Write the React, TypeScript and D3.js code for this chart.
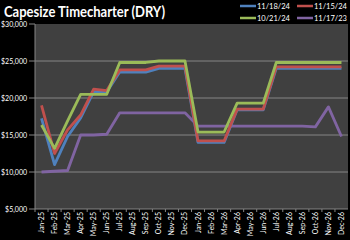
import React from "react";
import * as d3 from "d3";

const months = [
  "Jan-25","Feb-25","Mar-25","Apr-25","May-25","Jun-25","Jul-25","Aug-25","Sep-25","Oct-25","Nov-25","Dec-25",
  "Jan-26","Feb-26","Mar-26","Apr-26","May-26","Jun-26","Jul-26","Aug-26","Sep-26","Oct-26","Nov-26","Dec-26",
];
const blue111824 = [17250, 11000, 14800, 17300, 20850, 20800, 23500, 23500, 23500, 24000, 24000, 24000, 14000, 14000, 14000, 18400, 18400, 18400, 24000, 24000, 24000, 24000, 24000, 24000];
const red111524 = [19000, 12500, 15700, 17700, 21200, 21000, 23800, 23800, 23800, 24300, 24300, 24300, 14200, 14200, 14200, 18500, 18500, 18500, 24200, 24200, 24200, 24200, 24200, 24200];
const green102124 = [16350, 13200, 16900, 20500, 20500, 20500, 24800, 24800, 24800, 25000, 25000, 25000, 15400, 15400, 15400, 19300, 19300, 19300, 24800, 24800, 24800, 24800, 24800, 24800];
const purple111723 = [10000, 10100, 10200, 15000, 15000, 15100, 18000, 18000, 18000, 18000, 18000, 18000, 16200, 16200, 16200, 16200, 16200, 16200, 16200, 16200, 16200, 16100, 18800, 14800];
const yTicks = [5000, 10000, 15000, 20000, 25000, 30000];
const seriesNames = ["11/18/24", "11/15/24", "10/21/24", "11/17/23"];

const colors = ["#4F81BD", "#C0504D", "#9BBB59", "#8064A2"];

export default function App() {
  const W = 350, H = 240;
  const left = 35, right = 348, top = 24, bottom = 209;
  const x = d3.scaleBand<string>().domain(months).range([left, right]);
  const y = d3.scaleLinear().domain([5000, 30000]).range([bottom, top]);
  const line = d3.line<number>()
    .x((_, i) => (x(months[i]) as number) + x.bandwidth() / 2)
    .y((d) => y(d));
  const data = [blue111824, red111524, green102124, purple111723];
  const drawOrder = [3, 0, 1, 2];
  const font = "Lato, 'Open Sans', sans-serif";
  const legendPos = [
    { x: 240, y: 6 },
    { x: 297, y: 6 },
    { x: 240, y: 18 },
    { x: 297, y: 18 },
  ];
  return (
    <svg width={W} height={H} style={{ position: "absolute", left: 0, top: 0, background: "#000" }} fontFamily={font}>
      <rect x={0} y={0} width={W} height={H} fill="#000" />
      <text x={4} y={17} fill="#fff" fontSize={15} fontWeight="bold" textLength={161} lengthAdjust="spacingAndGlyphs">
        Capesize Timecharter (DRY)
      </text>
      {seriesNames.map((n, i) => (
        <g key={n}>
          <line x1={legendPos[i].x} x2={legendPos[i].x + 16} y1={legendPos[i].y} y2={legendPos[i].y} stroke={colors[i]} strokeWidth={2.5} />
          <text x={legendPos[i].x + 17} y={legendPos[i].y + 2.5} fill="#fff" fontSize={7.5}>{n}</text>
        </g>
      ))}
      <rect x={left} y={top} width={right - left} height={bottom - top} fill="#404040" />
      {yTicks.map((t) => (
        <g key={t}>
          {t !== 5000 && t !== 30000 && (
            <line x1={left} x2={right} y1={y(t)} y2={y(t)} stroke="#858585" strokeWidth={1} />
          )}
          <line x1={left - 6} x2={left} y1={y(t)} y2={y(t)} stroke="#858585" strokeWidth={1} />
          <text x={left - 8} y={y(t) + 2.5} fill="#fff" fontSize={7} textAnchor="end">
            {"$" + d3.format(",")(t)}
          </text>
        </g>
      ))}
      <line x1={left} x2={left} y1={top} y2={bottom} stroke="#858585" strokeWidth={1} />
      <line x1={left} x2={right} y1={bottom} y2={bottom} stroke="#858585" strokeWidth={1} />
      {months.map((m, i) => (
        <line key={"t" + m} x1={(x(m) as number)} x2={(x(m) as number)} y1={bottom} y2={bottom + 3} stroke="#858585" />
      ))}
      {months.map((m) => {
        const cx = (x(m) as number) + x.bandwidth() / 2 + 2.5;
        return (
          <text key={m} x={0} y={0} transform={`translate(${cx},${bottom + 3}) rotate(-90)`} fill="#fff" fontSize={7} textAnchor="end">
            {m}
          </text>
        );
      })}
      {drawOrder.map((i) => (
        <path key={i} d={line(data[i]) as string} fill="none" stroke={colors[i]} strokeWidth={2.8} strokeLinejoin="round" />
      ))}
    </svg>
  );
}
